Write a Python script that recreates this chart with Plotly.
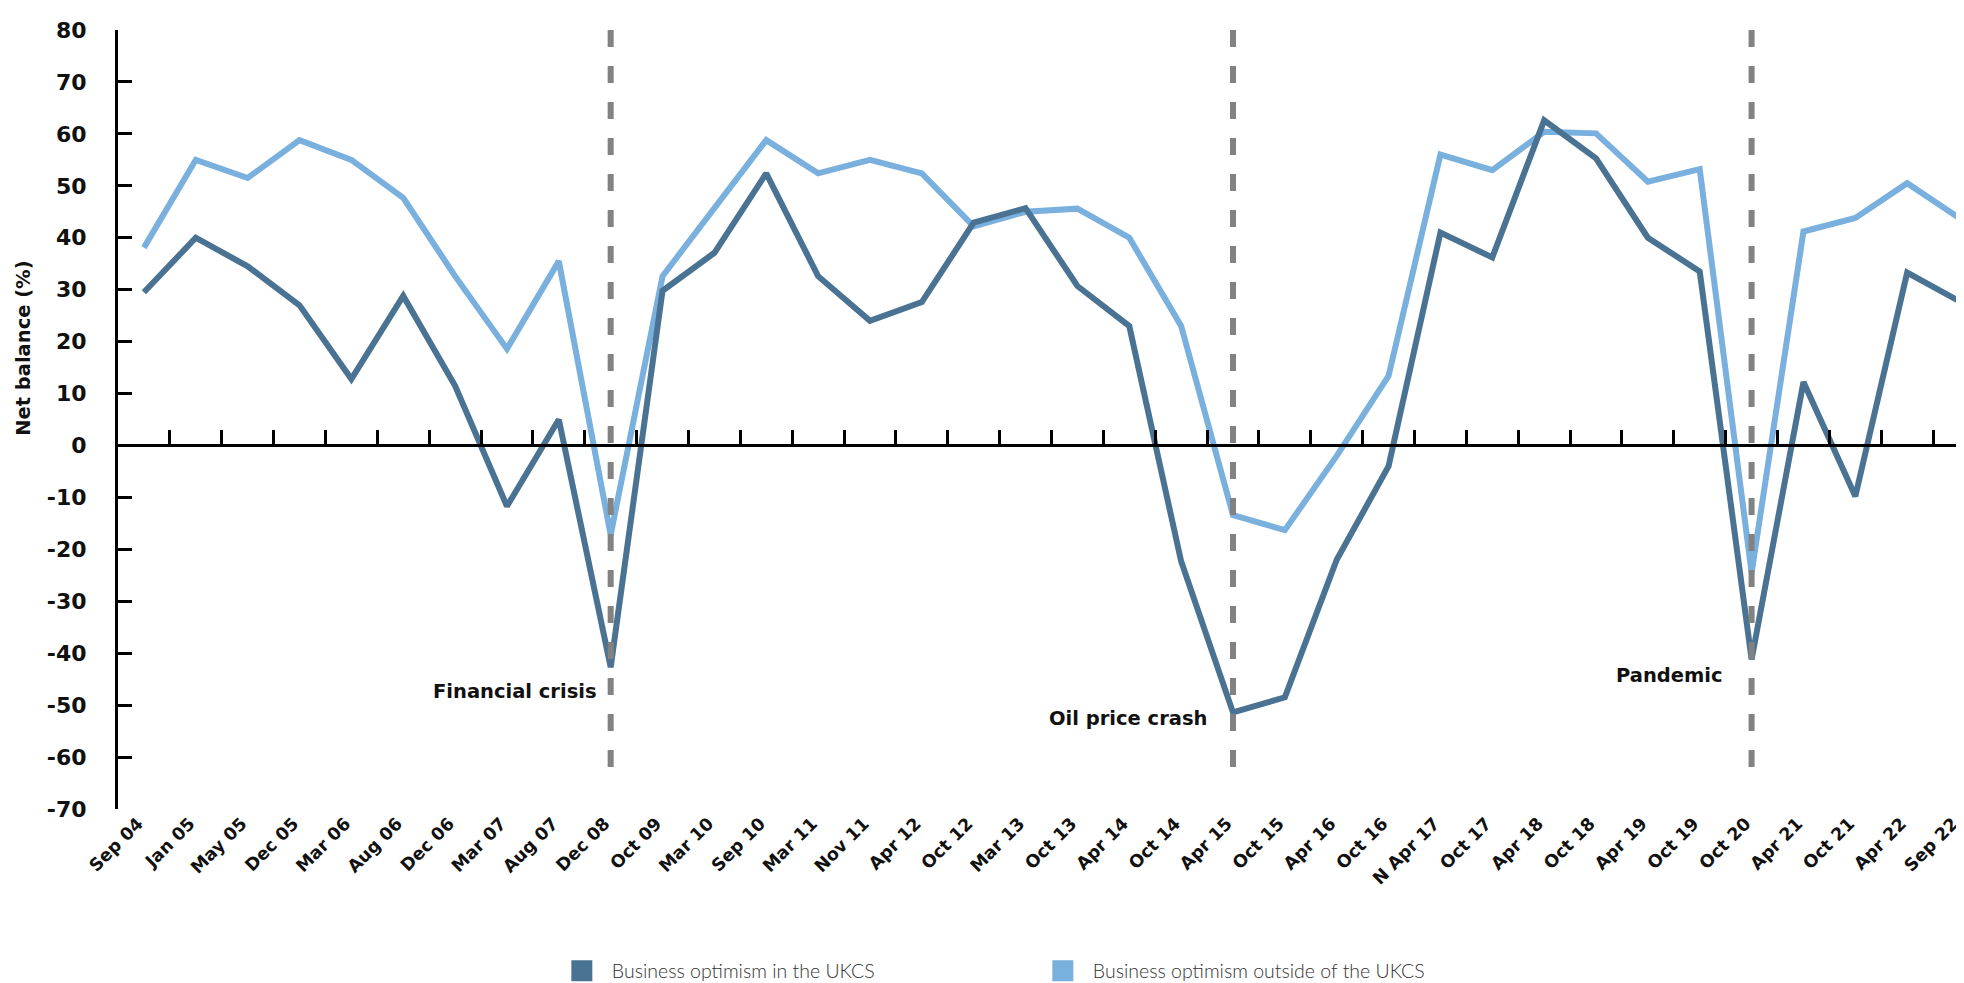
import plotly.graph_objects as go

# ---- data ----
categories = ["Sep 04", "Jan 05", "May 05", "Dec 05", "Mar 06", "Aug 06", "Dec 06", "Mar 07",
              "Aug 07", "Dec 08", "Oct 09", "Mar 10", "Sep 10", "Mar 11", "Nov 11", "Apr 12",
              "Oct 12", "Mar 13", "Oct 13", "Apr 14", "Oct 14", "Apr 15", "Oct 15", "Apr 16",
              "Oct 16", "N Apr 17", "Oct 17", "Apr 18", "Oct 18", "Apr 19", "Oct 19", "Oct 20",
              "Apr 21", "Oct 21", "Apr 22", "Sep 22"]
ukcs = [29.5, 40, 34.5, 27, 12.8, 28.8, 11.5, -11.7, 5, -42.7, 29.8, 37.1, 52.4, 32.6, 24, 27.6,
        42.9, 45.7, 30.7, 23, -22.3, -51.4, -48.5, -22, -4, 41, 36.2, 62.6, 55.3, 40, 33.5, -41.2,
        12.2, -9.8, 33.3, 27.8]
outside = [38.1, 55, 51.5, 58.8, 55, 47.7, 32.6, 18.6, 35.5, -17.2, 32.6, 45.5, 58.8, 52.4, 55, 52.4,
           42.2, 45, 45.6, 40, 23, -13.4, -16.3, -2, 13.4, 56, 53, 60.4, 60.1, 50.8, 53.2, -24.5,
           41.2, 43.8, 50.5, 43.8]
series_names = ["Business optimism in the UKCS", "Business optimism outside of the UKCS"]
events = ["Financial crisis", "Oil price crash", "Pandemic"]
event_dates = ["Dec 08", "Apr 15", "Oct 20"]
y_ticks = list(range(-70, 81, 10))
y_tick_labels = [str(v) for v in y_ticks]

# ---- style / layout constants ----
DARK = "#4a7393"
LIGHT = "#7ab0de"
GRAY = "#828282"
FONT = "DejaVu Sans"
event_label_y = [-47.3, -52.6, -44.2]
event_label_shift = [-12, -24, -27]
event_span = [-62.0, 80.0]
Y_RANGE = [-70, 80]
X_RANGE = [-0.5, 35.25]

xs = list(range(len(categories)))

fig = go.Figure()
fig.add_trace(go.Scatter(x=xs, y=outside, mode="lines", line=dict(color=LIGHT, width=6),
                         showlegend=False, hoverinfo="skip"))
fig.add_trace(go.Scatter(x=xs, y=ukcs, mode="lines", line=dict(color=DARK, width=6),
                         showlegend=False, hoverinfo="skip"))
# legend-only entries with square symbols
for name, col in zip(series_names, [DARK, LIGHT]):
    fig.add_trace(go.Scatter(x=[None], y=[None], mode="markers", name=name,
                             marker=dict(symbol="square", size=16, color=col,
                                         line=dict(color=col, width=5))))
# dummy trace for the zero-line axis
fig.add_trace(go.Scatter(x=[None], y=[None], xaxis="x2", showlegend=False, hoverinfo="skip"))

shapes = []
annotations = []
for ev, d, ly, sh in zip(events, event_dates, event_label_y, event_label_shift):
    i = categories.index(d)
    shapes.append(dict(type="line", xref="x", yref="y", x0=i, x1=i, y0=event_span[1], y1=event_span[0],
                       line=dict(color=GRAY, width=6, dash="17px,19px"), layer="above"))
    annotations.append(dict(x=i, y=ly, xref="x", yref="y", text=ev, showarrow=False,
                            xanchor="right", yanchor="middle", xshift=sh,
                            font=dict(family=FONT, size=19.5, color="#111", weight="bold")))

annotations.append(dict(x=-0.0507, y=18.6, xref="paper", yref="y", text="Net balance (%)", textangle=-90,
                        showarrow=False, xanchor="center", yanchor="middle",
                        font=dict(family=FONT, size=19.5, color="#111", weight="bold")))

fig.update_layout(
    width=1964, height=983, autosize=False,
    margin=dict(l=110, r=0, t=22, b=178),
    paper_bgcolor="white", plot_bgcolor="white",
    shapes=shapes, annotations=annotations,
    xaxis=dict(range=X_RANGE, tickmode="array", tickvals=xs, ticktext=categories, tickangle=-45,
               showline=False, showgrid=False, zeroline=False, ticks="", ticklabelshift=-6,
               tickfont=dict(family=FONT, size=17.5, color="#111", weight="bold")),
    xaxis2=dict(range=X_RANGE, overlaying="x", anchor="free",
                position=(0 - Y_RANGE[0]) / (Y_RANGE[1] - Y_RANGE[0]),
                showline=True, linecolor="black", linewidth=3, showgrid=False, zeroline=False,
                ticks="inside", ticklen=14, tickwidth=2.5, tickcolor="black",
                tickmode="linear", tick0=0.5, dtick=1, showticklabels=False),
    yaxis=dict(range=Y_RANGE, tickmode="array", tickvals=y_ticks, ticktext=y_tick_labels,
               showline=True, linecolor="black",
               linewidth=3, showgrid=False, zeroline=False, ticks="inside", ticklen=14, tickwidth=2.5,
               tickcolor="black", ticklabelstandoff=24,
               tickfont=dict(family=FONT, size=22, color="#111", weight="bold")),
    legend=dict(orientation="h", x=0.234, xanchor="left", y=-0.183, yanchor="top",
                font=dict(family="Lato", size=19.5, color="#333", weight=300),
                itemwidth=50,
                bgcolor="rgba(0,0,0,0)", entrywidth=416, entrywidthmode="pixels"),
)

fig.write_html("out.html")
